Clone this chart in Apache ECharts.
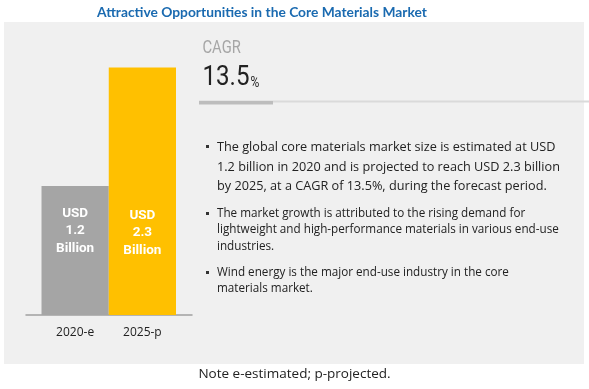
<!DOCTYPE html>
<html><head><meta charset="utf-8">
<script src="https://cdn.jsdelivr.net/npm/echarts@6/dist/echarts.min.js"></script>
<style>html,body{margin:0;padding:0;background:#fff}#c{width:589px;height:389px}</style>
</head><body><div id="c"></div>
<script>
const categories = ['2020-e', '2025-p'];
const values = [1.2, 2.3];
const barColors = ['#a5a5a5', '#ffc000'];
const barLabels = ['USD\n1.2\nBillion', 'USD\n2.3\nBillion'];
const titleText = 'Attractive Opportunities in the Core Materials Market';
const cagrLabel = 'CAGR';
const cagrValue = '13.5';
const bullets = [
  'The global core materials market size is estimated at USD\n1.2 billion in 2020 and is projected to reach USD 2.3 billion\nby 2025, at a CAGR of 13.5%, during the forecast period.',
  'The market growth is attributed to the rising demand for\nlightweight and high-performance materials in various end-use\nindustries.',
  'Wind energy is the major end-use industry in the core\nmaterials market.'
];
const noteText = 'Note e-estimated; p-projected.';

const chart = echarts.init(document.getElementById('c'), null, {renderer: 'canvas'});
const rob = 'Roboto, "DejaVu Sans", sans-serif';
const body = '"Open Sans", "DejaVu Sans", sans-serif';

chart.setOption({
  backgroundColor: '#ffffff',
  animation: false,
  grid: [
    {left: 41.5, width: 134.5, top: 46, height: 269},
    {left: 26, width: 166, top: 46, height: 269}
  ],
  xAxis: [
    {type: 'category', gridIndex: 0, data: categories,
     axisLine: {show: false}, axisTick: {show: false},
     axisLabel: {color: '#222', fontSize: 12, fontFamily: body, margin: 12}},
    {type: 'category', gridIndex: 1, data: [''],
     axisLine: {show: true, lineStyle: {color: '#a0a0a0', width: 1.5}},
     axisTick: {show: false}, axisLabel: {show: false}}
  ],
  yAxis: [
    {type: 'value', gridIndex: 0, min: 0, max: 2.5, show: false},
    {type: 'value', gridIndex: 1, min: 0, max: 2.5, show: false}
  ],
  graphic: [
    {type: 'rect', z: -10, shape: {x: 4, y: 22, width: 580, height: 342}, style: {fill: '#f0f0f0'}},
    {type: 'text', x: 97, y: 13, style: {text: titleText, fill: '#1a6ab0', font: 'bold 13.8px Lato, ' + body, verticalAlign: 'middle'}},
    {type: 'text', x: 202.5, y: 48.5, scaleX: 0.82, style: {text: cagrLabel, fill: '#a6a6a6', font: '18px ' + rob, verticalAlign: 'middle'}},
    {type: 'text', x: 202.5, y: 78, scaleX: 0.86, style: {text: cagrValue, fill: '#222', font: '28px ' + rob, verticalAlign: 'middle'}},
    {type: 'text', x: 250.5, y: 83.5, scaleX: 0.86, style: {text: '%', fill: '#222', font: '14px ' + rob, verticalAlign: 'middle'}},
    {type: 'rect', shape: {x: 199, y: 100.5, width: 390, height: 2}, style: {fill: '#dadada'}},
    {type: 'rect', shape: {x: 199, y: 101, width: 74, height: 3.5}, style: {fill: '#bdbdbd'}},
    {type: 'rect', shape: {x: 206, y: 145, width: 3, height: 3}, style: {fill: '#333'}},
    {type: 'rect', shape: {x: 206, y: 212, width: 3, height: 3}, style: {fill: '#333'}},
    {type: 'rect', shape: {x: 206, y: 271, width: 3, height: 3}, style: {fill: '#333'}},
    {type: 'text', left: 217, top: 138, style: {text: bullets[0], fill: '#222', font: '12.7px ' + body, lineHeight: 19.5}},
    {type: 'text', left: 217, top: 205, style: {text: bullets[1], fill: '#222', font: '11.7px ' + body, lineHeight: 16.7}},
    {type: 'text', left: 217, top: 264, style: {text: bullets[2], fill: '#222', font: '11.7px ' + body, lineHeight: 16.5}},
    {type: 'text', left: 'center', top: 367, style: {text: noteText, fill: '#222', font: '13.5px ' + body}}
  ],
  series: [{
    type: 'bar', xAxisIndex: 0, yAxisIndex: 0,
    barCategoryGap: 0,
    data: values.map((v, i) => ({value: v, itemStyle: {color: barColors[i]},
      label: {formatter: barLabels[i], distance: i === 0 ? 58 : 56}})),
    label: {show: true, position: 'insideBottom', color: '#fff',
      fontFamily: rob, fontWeight: 'bold', fontSize: 13.5, lineHeight: 17.5, align: 'center'}
  }]
});
</script></body></html>
